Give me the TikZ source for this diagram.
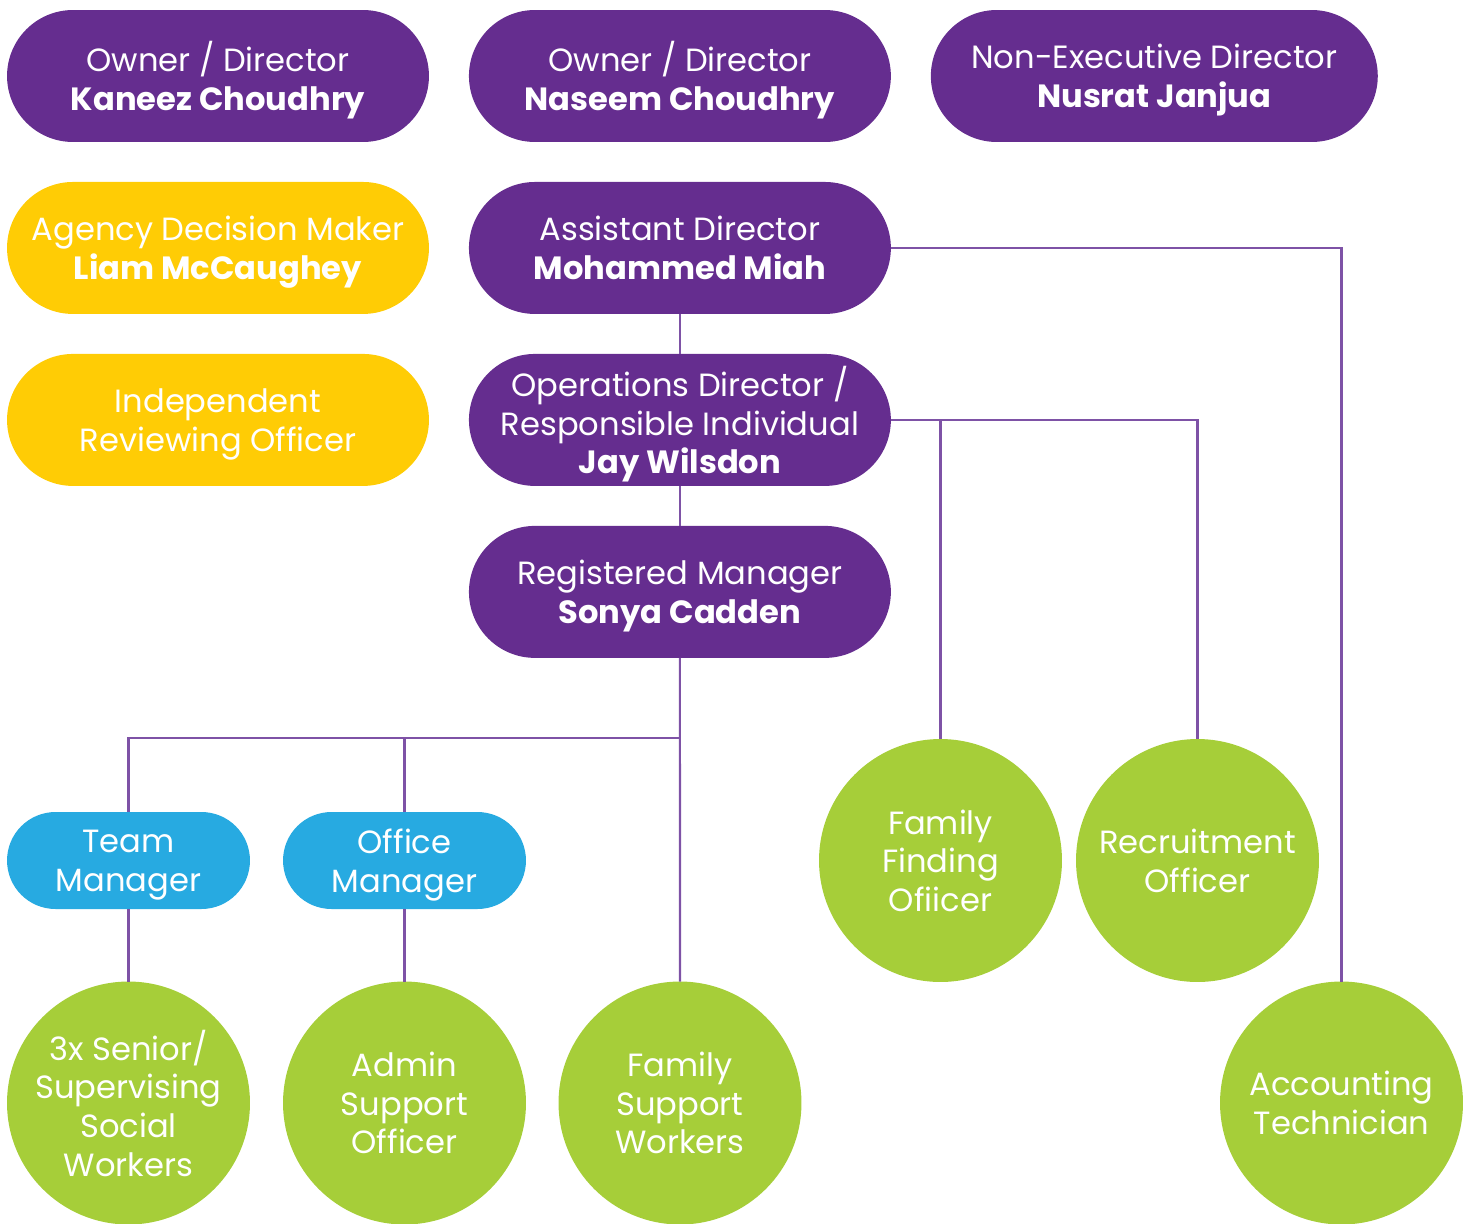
\documentclass[tikz,border=0pt]{standalone}
\usepackage{fontspec}
\setmainfont{Poppins}
\usepackage{tikz}
\usetikzlibrary{positioning}
\definecolor{boardpurple}{HTML}{652D8F}
\definecolor{linkpurple}{HTML}{7E52A6}
\definecolor{agencyyellow}{HTML}{FFCC05}
\definecolor{managerblue}{HTML}{27AAE1}
\definecolor{staffgreen}{HTML}{A6CE39}

\begin{document}
\begin{tikzpicture}[
            x=0.02cm, y=-0.02cm,
            node distance=0.8cm and 0.8cm,
            every node/.style={text=white, align=center, inner sep=0pt, outer sep=0pt,
              text depth=0pt, font=\fontsize{18.3}{22}\selectfont},
            pill/.style={fill=boardpurple, minimum width=8.44cm, minimum height=2.64cm, rounded corners=1.32cm},
            agency/.style={pill, fill=agencyyellow},
            manager/.style={fill=managerblue, minimum width=4.86cm, minimum height=1.94cm, rounded corners=0.97cm},
            staff/.style={circle, fill=staffgreen, minimum size=4.86cm},
            link/.style={draw=linkpurple, line width=1.2pt}
          ]
          \useasboundingbox (0,0) rectangle (1471,1224);

          % Board
          \node[pill] (own1) at (218,76) {Owner / Director\\\textbf{Kaneez Choudhry}};
          \node[pill, right=of own1] (own2) {Owner / Director\\\textbf{Naseem Choudhry}};
          \node[pill, right=of own2, minimum width=8.94cm] (ned) {Non-Executive Director\\\textbf{Nusrat Janjua}};

          % Agency
          \node[agency, below=of own1] (adm) {Agency Decision Maker\\\textbf{Liam McCaughey}};
          \node[agency, below=of adm] (iro) {Independent\\Reviewing Officer};

          % Management
          \node[pill, below=of own2] (asd) {Assistant Director\\\textbf{Mohammed Miah}};
          \node[pill, below=of asd] (ops) {Operations Director /\\Responsible Individual\\\textbf{Jay Wilsdon}};
          \node[pill, below=of ops] (reg) {Registered Manager\\\textbf{Sonya Cadden}};

          \node[manager] (team) at (128.5,860.5) {Team\\Manager};
          \node[manager] (office) at (404.5,860.5) {Office\\Manager};

          % Staff
          \node[staff] (ssw) at (128.5,1103) {3x Senior/\\Supervising\\Social\\Workers};
          \node[staff] (aso) at (404.5,1103) {Admin\\Support\\Officer};
          \node[staff] (fsw) at (680,1103) {Family\\Support\\Workers};
          \node[staff] (ffo) at (940.5,860.5) {Family\\Finding\\Ofiicer};
          \node[staff] (rec) at (1197.5,860.5) {Recruitment\\Officer};
          \node[staff] (acc) at (1341.5,1103) {Accounting\\Technician};

          \coordinate (bus) at (680,738);

          % Links
          \draw[link] (asd) -- (ops);
          \draw[link] (ops) -- (reg);
          \draw[link] (reg.south) -- (fsw.north);
          \draw[link] (team.north) |- (bus);
          \draw[link] (office.north) -- (office.north |- bus);
          \draw[link] (team) -- (ssw);
          \draw[link] (office) -- (aso);
          \draw[link] (asd.east) -| (acc.north);
          \draw[link] (ops.east) -| (rec.north);
          \draw[link] (ffo.north) -- (ffo.north |- ops.east);

        \end{tikzpicture}
\end{document}
